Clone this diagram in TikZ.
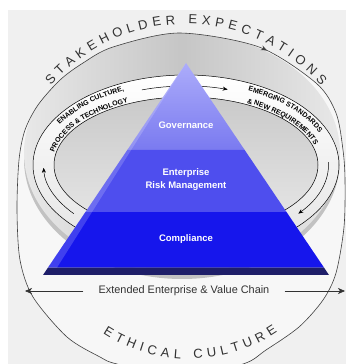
\documentclass[tikz,border=0pt]{standalone}
\usepackage{fontspec}
\setmainfont{Liberation Sans}
\usetikzlibrary{calc,arrows.meta,decorations.text,decorations.markings}

\definecolor{panel}{RGB}{240,240,240}
\definecolor{rimfill}{RGB}{247,247,247}
\definecolor{txtgray}{RGB}{50,50,50}
\definecolor{govtop}{RGB}{172,172,250}
\definecolor{govbot}{RGB}{122,122,240}
\definecolor{ermblue}{RGB}{78,78,238}
\definecolor{compblue}{RGB}{22,22,236}
\definecolor{basenavy}{RGB}{30,30,105}

\newcommand\rimpath{plot[smooth cycle] coordinates {(179,331) (259,317) (316,281) (336,251) (343,214) (345,184) (344,137) (336,91) (323,64) (299,37) (266,14) (243,0) (180,-13) (117,0) (100,7) (67,27) (33,67) (20,104) (17,154) (19,204) (25,234) (38,259) (60,284) (83,301) (113,317)}}

\begin{document}
\begin{tikzpicture}[x=1pt, y=1pt,
    rimline/.style={draw=black!75, line width=0.6pt},
    flow/.style={black, line width=0.5pt, -{Stealth[length=5pt,width=4pt]}},
    chainarrow/.style={txtgray, line width=0.6pt, -{Stealth[length=7pt,width=6pt,inset=2pt]}},
    tier/.style={text=white, font=\fontsize{9.5}{13}\selectfont\bfseries, align=center},
    ontrack/.style={decorate, decoration={text along path, text align=center, text color=black}},
    ]
    \useasboundingbox (0,0) rectangle (346,364);
    \fill[white] (0,0) rectangle (346,364);
    \fill[panel] (8,0) rectangle (346,354);
    \coordinate (ring) at (182,211);
    \coordinate (trk) at (186,199);
    \coordinate (top) at (186,161);
    \coordinate (bot) at (189,163);
    \coordinate (apex) at (186,301);
    \coordinate (bl) at (43,89);
    \coordinate (br) at (329,89);
    \coordinate (gl) at ($(apex)!.41!(bl)$);
    \coordinate (gr) at ($(apex)!.41!(br)$);
    \coordinate (el) at ($(apex)!.703!(bl)$);
    \coordinate (er) at ($(apex)!.703!(br)$);
    \coordinate (cl) at ($(apex)!.965!(bl)$);
    \coordinate (cr) at ($(apex)!.965!(br)$);
    \fill[rimfill] \rimpath;
    \begin{scope}
        \clip \rimpath;
        \fill[gray!48] ($(ring)+(0,-6)$) ellipse[x radius=158, y radius=120];
        \shade[left color=gray!18, right color=gray!18, middle color=gray!45] (ring) ellipse[x radius=158, y radius=120];
    \end{scope}
    \draw[rimline, postaction={decorate, decoration={markings, mark=at position 0.008 with {\arrow{Stealth[length=6pt,width=5pt]}}}}] \rimpath;
    \shadedraw[top color=white, bottom color=gray!22, draw=black, line width=0.5pt] (trk) ellipse[x radius=153, y radius=90];
    \shadedraw[top color=gray!42, bottom color=gray!18, draw=black, line width=0.5pt] (trk) ellipse[x radius=132, y radius=68];
    \draw[flow] ([shift={(108:142.5 and 79)}]trk) arc[start angle=108, end angle=73, x radius=142.5, y radius=79];
    \draw[flow] ([shift={(218:142.5 and 79)}]trk) arc[start angle=218, end angle=182, x radius=142.5, y radius=79];
    \draw[flow] ([shift={(2:142.5 and 79)}]trk) arc[start angle=2, end angle=-38, x radius=142.5, y radius=79];
    \path[ontrack, decoration={text={|\fontsize{7}{7}\selectfont\bfseries|ENABLING CULTURE,}}] ([shift={(158:145 and 82)}]trk) arc[start angle=158, end angle=110, x radius=145, y radius=82];
    \path[ontrack, decoration={text={|\fontsize{7}{7}\selectfont\bfseries|PROCESS {\&} TECHNOLOGY}}] ([shift={(176:134 and 69.5)}]trk) arc[start angle=176, end angle=112, x radius=134, y radius=69.5];
    \path[ontrack, decoration={text={|\fontsize{7}{7}\selectfont\bfseries|EMERGING STANDARDS}}] ([shift={(70:145 and 82)}]trk) arc[start angle=70, end angle=15, x radius=145, y radius=82];
    \path[ontrack, decoration={text={|\fontsize{7}{7}\selectfont\bfseries|{\&} NEW REQUIREMENTS}}] ([shift={(68:134 and 69.5)}]trk) arc[start angle=68, end angle=8, x radius=134, y radius=69.5];
    \shade[top color=govtop, bottom color=govbot] (apex) -- (gl) -- (gr) -- cycle;
    \fill[ermblue] (gl) -- (el) -- (er) -- (gr) -- cycle;
    \fill[compblue] (el) -- (cl) -- (cr) -- (er) -- cycle;
    \fill[basenavy] (cl) -- (bl) -- (br) -- (cr) -- cycle;
    \fill[white, opacity=.18] (apex) -- (cl) -- ($(cl)+(9,0)$) -- cycle;
    \node[tier] (gov) at (186,239) {Governance};
    \node[tier] (erm) at (186,184.5) {Enterprise\\Risk Management};
    \node[tier] (comp) at (186,125) {Compliance};
    \node[font=\fontsize{10.9}{12}\selectfont, text=txtgray, inner xsep=15pt] (chain) at (184,73) {Extended Enterprise \& Value Chain};
    \coordinate (chainL) at (25,73);
    \coordinate (chainR) at (345,73);
    \draw[chainarrow] (chain.west) -- (chainL);
    \draw[chainarrow] (chain.east) -- (chainR);
    \path[decorate, decoration={text along path, text={|\fontsize{13}{13}\selectfont|STAKEHOLDER EXPECTATIONS}, text align=fit to path, text color=txtgray}] ([shift={(139:179)}]top) arc[start angle=139, end angle=41, radius=179];
    \path[decorate, decoration={text along path, text={|\fontsize{13}{13}\selectfont|ETHICAL CULTURE}, text align=fit to path, text color=txtgray}] ([shift={(237:158)}]bot) arc[start angle=237, end angle=304, radius=158];
\end{tikzpicture}
\end{document}
